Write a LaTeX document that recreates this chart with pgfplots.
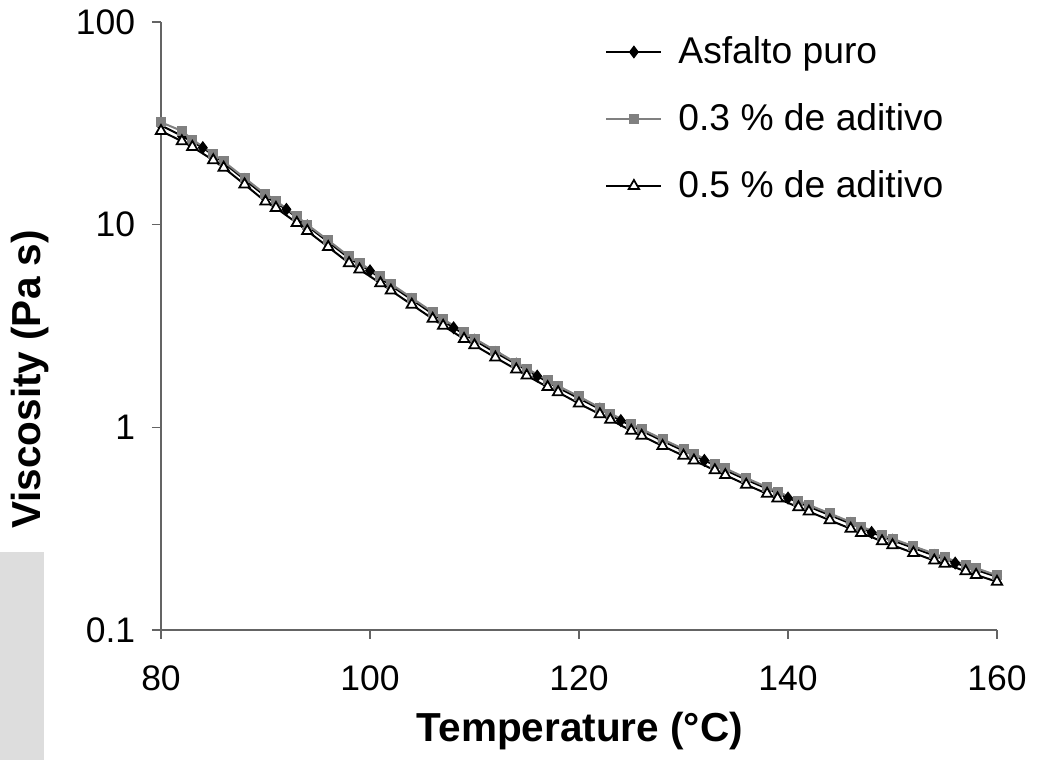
\documentclass[border=0pt]{standalone}
\usepackage{fontspec}
\setmainfont{Liberation Sans}
\usepackage{pgfplots}
\pgfplotsset{compat=1.18}

\definecolor{axisgray}{RGB}{100,100,100}
\definecolor{sergray}{RGB}{128,128,128}
\definecolor{boxgray}{RGB}{221,221,221}

\begin{document}
\begin{tikzpicture}
% page frame 1045x760 px at 0.4pt per px
\useasboundingbox (0,0) rectangle (418pt,304pt);
\fill[boxgray] (0,0) rectangle (17.6pt,83.2pt);
\begin{axis}[
    at={(64.4pt,52pt)}, anchor=south west,
    scale only axis,
    width=334.4pt, height=243.2pt,
    xmin=80, xmax=160,
    ymin=0.1, ymax=100,
    ymode=log,
    log basis y=10,
    xtick={80,100,...,160},
    ytick={0.1,1,10,100},
    yticklabels={0.1,1,10,100},
    minor tick num=0,
    yminorticks=false,
    axis x line*=bottom,
    axis y line*=left,
    axis line style={axisgray, line width=0.45pt},
    tick style={axisgray, line width=0.45pt},
    tick align=outside,
    major tick length=3.6pt,
    /pgf/number format/assume math mode=true,
    tick label style={font=\fontsize{14.2}{16}\selectfont},
    xticklabel style={yshift=-7pt},
    yticklabel style={xshift=-3.2pt},
    xlabel={\textbf{Temperature (°C)}},
    ylabel={\textbf{Viscosity (Pa s)}},
    label style={font=\fontsize{16.2}{19}\selectfont},
    xlabel style={at={(axis description cs:0.501,-0.166)}, anchor=center},
    ylabel style={at={(axis description cs:-0.157,0.412)}, anchor=center},
    legend style={draw=none, fill=none, at={(axis description cs:0.531,0.985)}, anchor=north west,
        font=\fontsize{14.9}{17}\selectfont, row sep=10.5pt, inner sep=0pt,
        /tikz/every odd column/.append style={column sep=4.4pt}},
    legend cell align=left,
    legend image code/.code={\draw[mark repeat=2,mark phase=2,#1] plot coordinates {(0pt,0pt) (11pt,0pt) (22pt,0pt)};},
]

% Asfalto puro
\addplot[black, line width=0.8pt, mark=diamond*, mark size=2pt, mark options={solid, fill=black}]
coordinates {
(80,30.9)(82,27.4)(84,24.0)(86,20.2)(88,16.7)(90,13.8)(92,11.9)(94,9.86)
(96,8.22)(98,6.84)(100,5.92)(102,5.01)(104,4.27)(106,3.63)(108,3.10)
(110,2.69)(112,2.34)(114,2.05)(116,1.79)(118,1.57)(120,1.39)(122,1.23)
(124,1.08)(126,0.962)(128,0.857)(130,0.767)(132,0.687)(134,0.615)
(136,0.552)(138,0.498)(140,0.448)(142,0.406)(144,0.369)(146,0.335)
(148,0.303)(150,0.277)(152,0.254)(154,0.233)(156,0.214)(158,0.198)(160,0.183)
};
\addlegendentry{Asfalto puro}

% 0.3 % de aditivo
\addplot[sergray, line width=0.8pt, mark=square*, mark size=1.6pt, mark options={solid, fill=sergray, draw=sergray}]
coordinates {
(80,32.0)(82,29.0)(83,26.3)(85,22.4)(86,20.5)(88,17.0)(90,14.1)(91,13.1)
(93,11.0)(94,10.0)(96,8.37)(98,6.97)(99,6.49)(101,5.55)(102,5.10)(104,4.35)
(106,3.70)(107,3.42)(109,2.95)(110,2.74)(112,2.39)(114,2.08)(115,1.95)
(117,1.71)(118,1.60)(120,1.42)(122,1.25)(123,1.17)(125,1.04)(126,0.98)
(128,0.873)(130,0.782)(131,0.74)(133,0.662)(134,0.627)(136,0.562)(138,0.507)
(139,0.481)(141,0.435)(142,0.414)(144,0.376)(146,0.341)(147,0.324)(149,0.295)
(150,0.282)(152,0.259)(154,0.238)(155,0.228)(157,0.210)(158,0.202)(160,0.186)
};
\addlegendentry{0.3 \% de aditivo}

% 0.5 % de aditivo
\addplot[black, line width=0.8pt, mark=triangle*, mark size=2.4pt, mark options={solid, fill=white, draw=black, line width=0.7pt}]
coordinates {
(80,29.0)(82,25.8)(83,24.2)(85,20.8)(86,19.1)(88,15.8)(90,13.0)(91,12.1)
(93,10.2)(94,9.31)(96,7.76)(98,6.46)(99,6.01)(101,5.14)(102,4.73)(104,4.03)
(106,3.43)(107,3.17)(109,2.73)(110,2.54)(112,2.21)(114,1.93)(115,1.80)
(117,1.58)(118,1.49)(120,1.31)(122,1.16)(123,1.09)(125,0.962)(126,0.908)
(128,0.809)(130,0.724)(131,0.686)(133,0.614)(134,0.581)(136,0.521)(138,0.470)
(139,0.446)(141,0.403)(142,0.384)(144,0.348)(146,0.316)(147,0.301)(149,0.274)
(150,0.262)(152,0.240)(154,0.220)(155,0.212)(157,0.195)(158,0.187)(160,0.173)
};
\addlegendentry{0.5 \% de aditivo}

\end{axis}
\end{tikzpicture}
\end{document}
